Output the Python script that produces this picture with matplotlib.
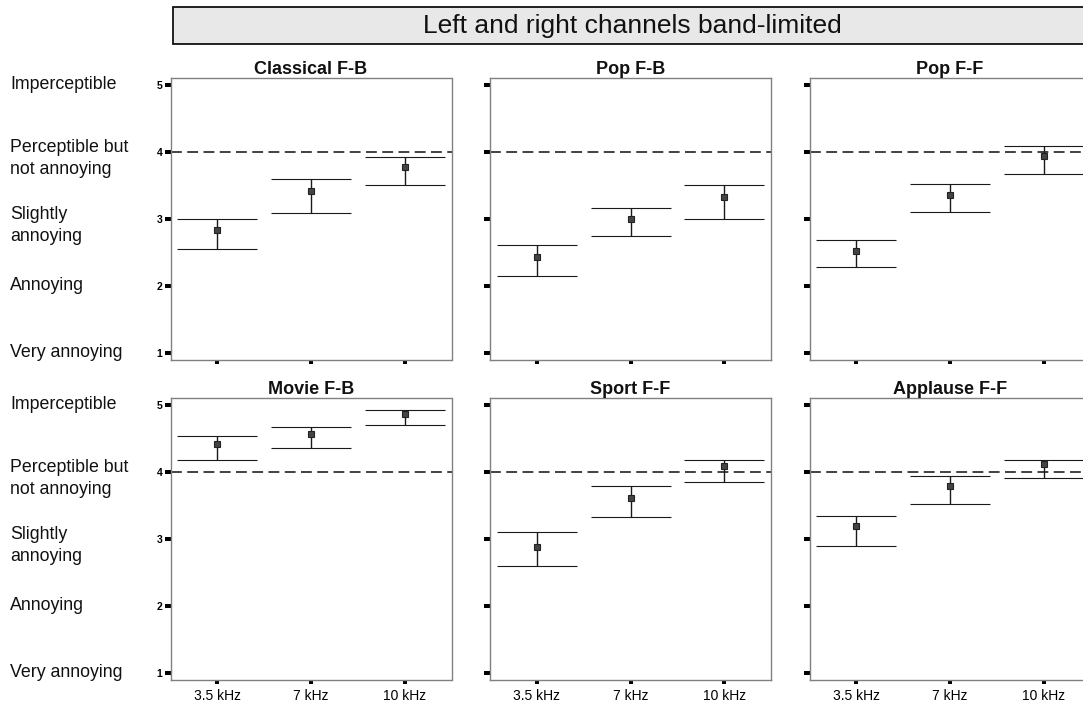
import matplotlib
matplotlib.use("Agg")
import matplotlib.pyplot as plt
import matplotlib.transforms as mtransforms
from matplotlib.patches import Rectangle
import numpy as np

plt.rcParams['font.family'] = ['Liberation Sans', 'DejaVu Sans']

# ---------------- data ----------------
suptitle = "Left and right channels band-limited"
categories = ["3.5 kHz", "7 kHz", "10 kHz"]
panel_titles = ["Classical F-B", "Pop F-B", "Pop F-F",
                "Movie F-B", "Sport F-F", "Applause F-F"]

classical_fb_mean = [2.83, 3.415, 3.775]
classical_fb_low = [2.55, 3.09, 3.51]
classical_fb_high = [3.00, 3.60, 3.925]

pop_fb_mean = [2.43, 3.00, 3.33]
pop_fb_low = [2.14, 2.74, 3.00]
pop_fb_high = [2.615, 3.155, 3.51]

pop_ff_mean = [2.52, 3.355, 3.93]
pop_ff_low = [2.285, 3.10, 3.67]
pop_ff_high = [2.68, 3.515, 4.085]

movie_fb_mean = [4.41, 4.56, 4.86]
movie_fb_low = [4.18, 4.36, 4.69]
movie_fb_high = [4.54, 4.66, 4.92]

sport_ff_mean = [2.88, 3.605, 4.085]
sport_ff_low = [2.59, 3.32, 3.845]
sport_ff_high = [3.10, 3.785, 4.175]

applause_ff_mean = [3.185, 3.78, 4.115]
applause_ff_low = [2.885, 3.52, 3.905]
applause_ff_high = [3.335, 3.935, 4.175]

reference_level = 4
y_ticks = [1, 2, 3, 4, 5]
scale_labels = ["Very annoying", "Annoying", "Slightly\nannoying",
                "Perceptible but\nnot annoying", "Imperceptible"]

panels = [
    (classical_fb_mean, classical_fb_low, classical_fb_high),
    (pop_fb_mean, pop_fb_low, pop_fb_high),
    (pop_ff_mean, pop_ff_low, pop_ff_high),
    (movie_fb_mean, movie_fb_low, movie_fb_high),
    (sport_ff_mean, sport_ff_low, sport_ff_high),
    (applause_ff_mean, applause_ff_low, applause_ff_high),
]

# ---------------- layout ----------------
W, H = 1083, 702
fig = plt.figure(figsize=(W / 100, H / 100), dpi=100)

col_left = [170.5, 490.0, 809.5]
ax_w = 281.0
row_top = [78.0, 398.0]
ax_h = 281.5

# banner
bx0, by0, bx1, by1 = 173, 7, 1092, 44
fig.patches.append(Rectangle((bx0 / W, 1 - by1 / H), (bx1 - bx0) / W, (by1 - by0) / H,
                             transform=fig.transFigure, facecolor="#e8e8e8",
                             edgecolor="#111111", linewidth=1.3, zorder=0))
fig.text((bx0 + bx1) / 2 / W, 1 - (by0 + by1) / 2 / H, suptitle,
         ha="center", va="center", fontsize=19, color="#111111")

x = np.arange(len(categories))

for i, (mean, low, high) in enumerate(panels):
    r, c = divmod(i, 3)
    left = col_left[c]
    top = row_top[r]
    ax = fig.add_axes([left / W, 1 - (top + ax_h) / H, ax_w / W, ax_h / H])
    mean = np.array(mean)
    low = np.array(low)
    high = np.array(high)
    ax.axhline(reference_level, color="#333333", lw=1.3, dashes=(6, 3), zorder=1)
    ax.errorbar(x, mean, yerr=[mean - low, high - mean], fmt="s",
                color="#1a1a1a", ecolor="#1a1a1a", elinewidth=1.0,
                capsize=28.8, capthick=1.0, markersize=4.0,
                markerfacecolor="#444444", markeredgecolor="#222222",
                markeredgewidth=0.8, zorder=3)
    ax.set_xlim(-0.5, 2.5)
    ax.set_ylim(0.9, 5.1)
    ax.set_yticks(y_ticks)
    ax.set_xticks(x)
    for s in ax.spines.values():
        s.set_color("#808080")
        s.set_linewidth(1.0)
    ax.tick_params(axis="y", length=4.3, width=2.9, color="black", pad=1.5,
                   labelsize=7.5, direction="out")
    ax.tick_params(axis="x", length=2.6, width=2.9, color="black", pad=4,
                   labelsize=10, direction="out")
    if c == 0:
        ax.set_yticklabels([str(t) for t in y_ticks], fontweight="bold")
    else:
        ax.set_yticklabels([])
    if r == 1:
        ax.set_xticklabels(categories)
    else:
        ax.set_xticklabels([])
    ax.set_title(panel_titles[i], fontsize=13, fontweight="bold", pad=2.5,
                 color="#111111")
    if c == 0:
        trans = mtransforms.blended_transform_factory(fig.transFigure, ax.transData)
        for t, lab in zip(y_ticks, scale_labels):
            off = -0.1 if "\n" in lab else 0.0
            ax.text(10 / W, t + off, lab, transform=trans, ha="left", va="center",
                    fontsize=12.8, linespacing=1.35,
                    color="#111111", clip_on=False)

fig.savefig("out.png", dpi=100)
